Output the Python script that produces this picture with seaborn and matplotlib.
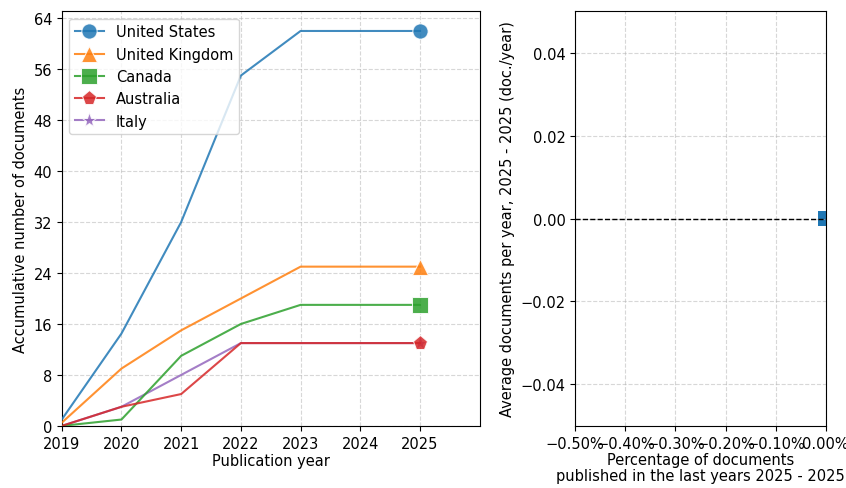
import pandas as pd
import matplotlib
matplotlib.use("Agg")
import matplotlib.pyplot as plt
import seaborn as sns
from matplotlib.ticker import MultipleLocator, PercentFormatter

years = [2019, 2020, 2021, 2022, 2023, 2024, 2025]
countries = ["United States", "United Kingdom", "Canada", "Australia", "Italy"]
us = [1, 14.5, 32, 55, 62, 62, 62]
uk = [0.5, 9, 15, 20, 25, 25, 25]
canada = [0, 1, 11, 16, 19, 19, 19]
australia = [0, 3, 5, 13, 13, 13, 13]
italy = [0, 3, 8, 13, 13, 13, 13]
markers = ["o", "^", "s", "p", "*"]

# right panel: share of docs in last years vs avg docs per year
pct_last = [0.0, 0.0, 0.0, 0.0, 0.0]
avg_per_year = [0.0, 0.0, 0.0, 0.0, 0.0]

series = [us, uk, canada, australia, italy]
rows = []
for name, vals in zip(countries, series):
    for y, v in zip(years, vals):
        rows.append({"country": name, "year": y, "docs": v})
df = pd.DataFrame(rows)

plt.rcParams["font.size"] = 10.5
colors = sns.color_palette("tab10", 5)
zorders = [5, 4, 3, 6, 2]

fig = plt.figure(figsize=(8.46, 4.89), dpi=100)
ax1 = fig.add_axes([0.073, 0.127, 0.494, 0.848])
ax2 = fig.add_axes([0.680, 0.127, 0.296, 0.848])

for i, name in enumerate(countries):
    sub = df[df["country"] == name]
    sns.lineplot(data=sub, x="year", y="docs", ax=ax1, color=colors[i],
                 marker=markers[i], markevery=[-1], markersize=11,
                 linewidth=1.5, alpha=0.85, label=name, zorder=zorders[i])

ax1.set_xlim(2019, 2026)
ax1.set_ylim(0, 65.1)
ax1.set_xticks(years)
ax1.yaxis.set_major_locator(MultipleLocator(8))
ax1.set_xlabel("Publication year", labelpad=2)
ax1.set_ylabel("Accumulative number of documents")
ax1.grid(True, linestyle="--", alpha=0.5)
ax1.legend(loc="upper left")

for i in reversed(range(len(countries))):
    sns.scatterplot(x=[pct_last[i]], y=[avg_per_year[i]], ax=ax2, color=colors[i],
                    marker="s", s=130, edgecolor="none", legend=False)
ax2.axhline(0, color="black", linestyle="--", linewidth=1)
ax2.set_xlim(-0.005, 0)
ax2.set_ylim(-0.05, 0.05)
ax2.xaxis.set_major_formatter(PercentFormatter(xmax=1, decimals=2))
ax2.set_xticks([-0.005, -0.004, -0.003, -0.002, -0.001, 0])
ax2.set_yticks([-0.04, -0.02, 0.0, 0.02, 0.04])
ax2.set_xlabel("Percentage of documents\npublished in the last years 2025 - 2025",
               labelpad=1, linespacing=1.05)
ax2.set_ylabel("Average documents per year, 2025 - 2025 (doc./year)")
ax2.grid(True, linestyle="--", alpha=0.5)

fig.savefig("out.png", dpi=100)
